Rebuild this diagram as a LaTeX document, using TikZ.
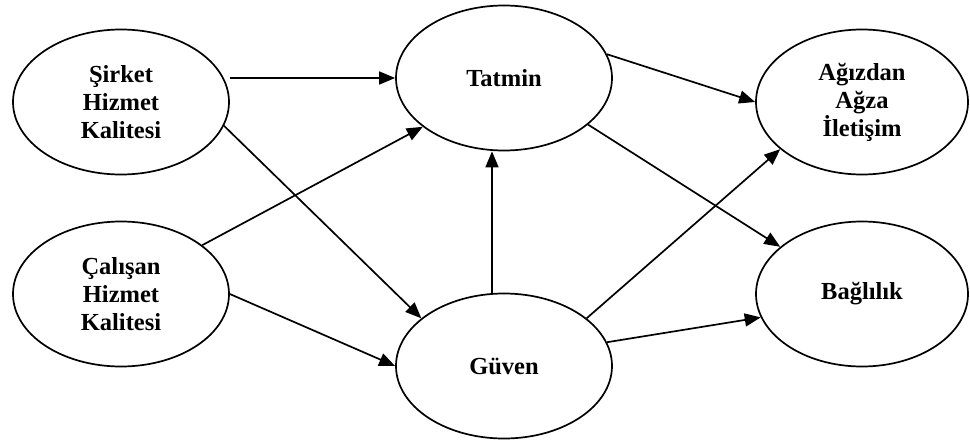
\documentclass[tikz,border=0pt]{standalone}
\usepackage{fontspec}
\setmainfont{Liberation Serif}
\usepackage{tikz}
\usetikzlibrary{arrows.meta, shapes.geometric}

\begin{document}
\begin{tikzpicture}[
    x=1pt, y=-1pt,
    construct/.style = {draw, ellipse, line width=1.7pt, minimum width=216pt,
                        minimum height=145pt, inner sep=0pt, align=center,
                        font=\fontsize{24.5}{28}\selectfont\bfseries},
    arrow/.style     = {-{Triangle[length=16pt, width=13pt]}, line width=1.7pt},
  ]
  \useasboundingbox (0,0) rectangle (970,445);

  % constructs
  \node[construct] (sirket)   at (121,102) {Şirket\\Hizmet\\Kalitesi};
  \node[construct] (calisan)  at (121,294) {Çalışan\\Hizmet\\Kalitesi};
  \node[construct] (tatmin)   at (504,78)  {Tatmin};
  \node[construct] (guven)    at (504,366) {Güven};
  \node[construct, minimum width=212pt] (agiz)     at (862,102) {Ağızdan\\Ağza\\İletişim};
  \node[construct, minimum width=212pt] (baglilik) at (862,294) {Bağlılık};

  % paths
  \draw[arrow] (tatmin.west -| sirket.east) -- (tatmin.west);
  \draw[arrow] (sirket.-13) -- (guven.150);
  \draw[arrow] (calisan.31) -- (tatmin.211);
  \draw[arrow] (calisan.east) -- (guven.west);
  \draw[arrow] ([xshift=-12pt]guven.north) -- ([xshift=-12pt]tatmin.south);
  \draw[arrow] (tatmin.13) -- (agiz.west);
  \draw[arrow] (tatmin.-29) -- (baglilik.150);
  \draw[arrow] (guven.30) -- (agiz.210);
  \draw[arrow] (guven.13) -- (baglilik.193);
\end{tikzpicture}
\end{document}
